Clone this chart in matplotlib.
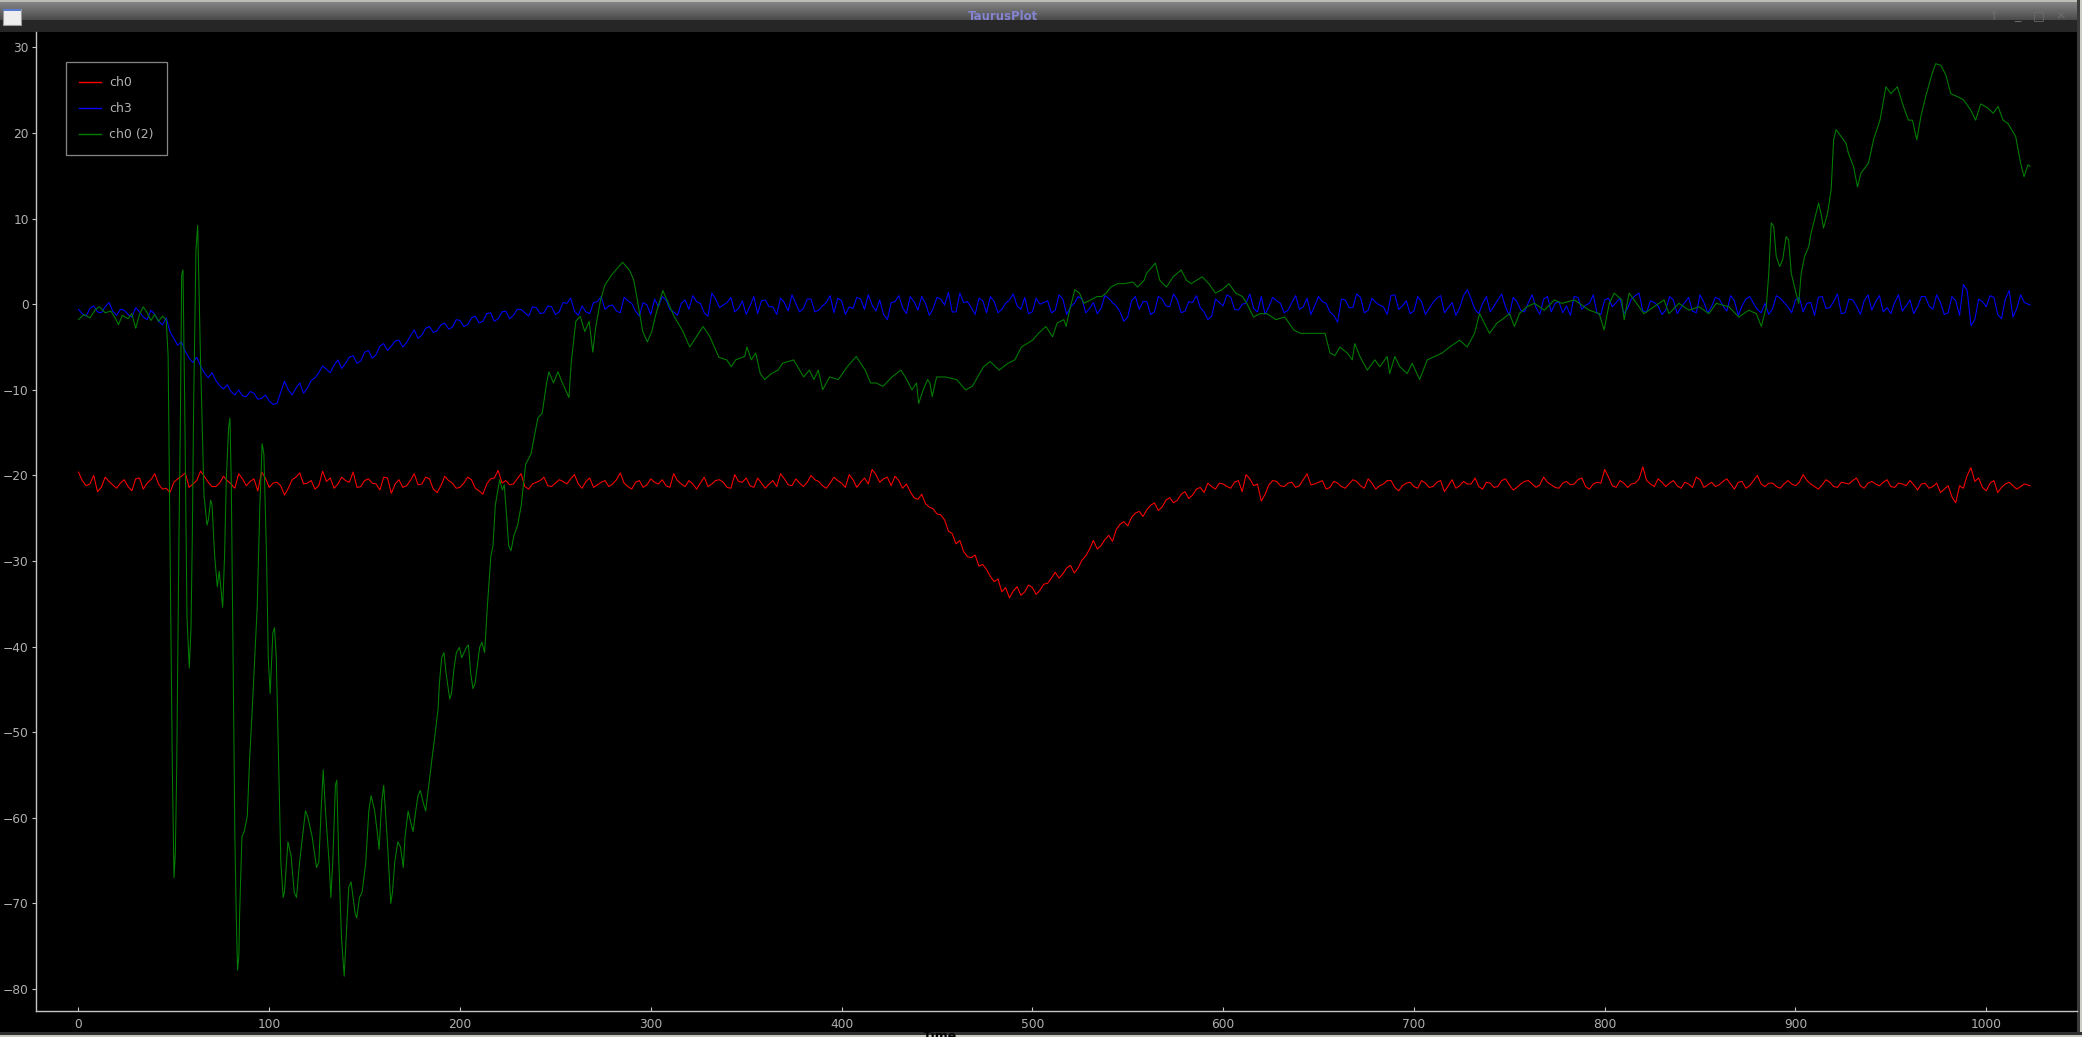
import numpy as np
import matplotlib
matplotlib.use("Agg")
import matplotlib.pyplot as plt
from matplotlib.patches import Rectangle

# ---------------- data ----------------
x_step = list(range(0, 1021, 4)) + [1023]
x_mid = list(range(2, 1019, 4))

ch0 = [
    -19.6, -21.2, -20.0, -21.4, -20.7, -21.5, -20.5, -21.8, -20.3, -20.9, -19.8, -21.6, -22.0, -20.4, -19.7, -21.0,
    -19.5, -20.8, -21.3, -20.1, -21.0, -19.8, -21.2, -20.4, -19.6, -21.4, -20.8, -22.3, -20.5, -19.7, -20.9, -21.6,
    -19.5, -20.3, -21.0, -20.6, -19.6, -21.3, -20.4, -21.0, -20.2, -22.1, -20.5, -21.2, -19.8, -21.0, -20.4, -22.0,
    -20.1, -20.9, -21.4, -20.2, -21.5, -22.2, -20.4, -19.4, -20.6, -21.0, -19.8, -21.6, -20.8, -20.2, -21.3, -20.5,
    -21.0, -19.9, -21.5, -20.3, -21.1, -20.6, -21.0, -19.7, -21.3, -20.8, -21.4, -20.4, -21.0, -21.2, -19.8, -21.0,
    -20.6, -21.6, -20.2, -21.0, -20.5, -21.4, -19.9, -20.8, -21.2, -20.3, -21.5, -20.6, -19.8, -21.1, -20.4, -21.3,
    -20.0, -20.7, -21.5, -20.2, -20.9, -19.9, -21.4, -20.3, -19.3, -20.8, -20.2, -20.1, -21.5, -21.9, -22.8, -23.3,
    -23.9, -24.6, -26.5, -28.0, -28.9, -29.6, -30.6, -31.0, -32.4, -33.6, -34.3, -33.0, -33.6, -33.1, -33.4, -32.6,
    -31.3, -31.5, -30.5, -30.8, -29.4, -27.6, -28.2, -27.0, -26.3, -25.4, -24.9, -24.2, -24.0, -23.2, -23.7, -22.6,
    -22.9, -21.9, -22.3, -21.4, -20.9, -21.6, -21.0, -21.5, -20.6, -19.9, -21.2, -23.0, -21.1, -20.7, -21.3, -20.8,
    -21.2, -19.8, -21.0, -20.6, -21.4, -20.9, -21.5, -20.5, -21.2, -20.4, -21.6, -21.0, -20.6, -21.8, -20.9, -21.3,
    -20.6, -21.4, -20.8, -21.9, -20.5, -21.2, -21.0, -20.3, -21.6, -20.9, -21.3, -20.4, -21.7, -21.0, -20.6, -21.4,
    -20.2, -21.1, -21.5, -20.7, -21.0, -20.3, -21.6, -20.8, -19.3, -21.2, -20.6, -21.4, -20.9, -19.0, -21.0, -20.4,
    -21.3, -20.6, -21.5, -21.0, -20.2, -21.4, -20.8, -21.1, -20.4, -21.6, -20.7, -21.2, -20.0, -21.3, -20.9, -21.5,
    -20.6, -21.2, -19.9, -21.0, -21.6, -20.5, -21.3, -20.8, -21.0, -20.3, -21.5, -20.7, -21.2, -20.5, -21.4, -21.0,
    -20.6, -21.7, -20.9, -21.3, -22.0, -21.2, -23.2, -21.5, -19.1, -20.3, -21.8, -20.6, -21.4, -20.8, -21.6, -21.0,
    -21.2,
]
ch0_mid = [
    -20.6, -21.0, -21.9, -20.2, -21.1, -20.9, -21.3, -20.4, -21.6, -20.5, -21.0, -21.5, -20.8, -20.1, -21.4, -20.6,
    -20.1, -21.3, -20.9, -20.6, -21.5, -20.4, -20.7, -21.8, -20.3, -20.9, -21.2, -21.5, -20.2, -21.0, -20.6, -21.2,
    -20.7, -21.5, -20.2, -20.8, -21.4, -20.6, -20.9, -21.7, -20.3, -21.0, -21.4, -20.6, -21.1, -20.2, -21.6, -21.2,
    -20.6, -21.5, -20.9, -20.5, -21.8, -21.0, -20.3, -20.9, -21.1, -20.4, -21.3, -21.0, -20.6, -21.2, -20.9, -20.7,
    -20.4, -21.0, -20.7, -21.4, -20.8, -21.3, -20.5, -20.9, -21.6, -20.6, -21.1, -20.8, -20.5, -21.4, -20.6, -21.3,
    -21.0, -20.9, -21.3, -20.6, -20.8, -21.5, -20.7, -20.3, -21.4, -20.9, -21.0, -21.3, -20.4, -21.2, -20.9, -20.8,
    -20.5, -21.2, -20.9, -20.6, -21.4, -20.5, -20.8, -21.0, -19.9, -20.4, -21.2, -20.6, -21.0, -22.6, -22.2, -23.7,
    -24.5, -25.2, -26.8, -27.6, -29.5, -29.3, -30.4, -31.8, -32.1, -33.1, -33.5, -34.0, -32.8, -33.9, -32.7, -32.0,
    -32.0, -30.8, -31.4, -29.9, -28.6, -28.6, -27.5, -27.7, -25.7, -25.9, -24.4, -24.8, -23.5, -24.1, -22.9, -23.2,
    -22.2, -22.7, -21.6, -22.0, -21.3, -20.9, -21.3, -20.8, -21.9, -20.4, -21.0, -22.2, -20.6, -21.2, -20.9, -21.4,
    -20.5, -21.1, -20.8, -21.6, -20.7, -21.3, -21.0, -20.7, -21.5, -20.9, -21.2, -20.6, -21.4, -21.2, -20.8, -21.5,
    -20.9, -21.3, -20.6, -21.2, -21.5, -20.7, -21.0, -21.3, -20.8, -21.4, -20.6, -21.1, -21.4, -20.7, -21.0, -21.1,
    -20.8, -21.4, -20.9, -21.1, -20.5, -21.3, -21.0, -20.9, -20.2, -21.4, -20.9, -21.0, -20.4, -20.6, -21.3, -20.8,
    -20.9, -21.2, -20.8, -21.4, -20.5, -21.1, -21.3, -20.7, -21.0, -20.8, -21.5, -20.6, -21.0, -20.9, -21.3, -21.0,
    -21.0, -20.8, -20.6, -21.3, -21.1, -20.8, -21.4, -20.9, -20.6, -21.2, -20.9, -21.0, -20.8, -21.3, -20.9, -21.2,
    -21.1, -21.0, -21.5, -20.9, -21.6, -22.5, -21.2, -20.0, -20.7, -21.4, -20.9, -22.0, -21.0, -21.2, -21.3,
]

ch3 = [
    -0.6, -1.4, -0.2, -1.0, 0.2, -1.3, -0.7, -1.5, -0.9, -1.8, -1.2, -2.4, -3.2, -4.8, -5.5, -6.8,
    -7.2, -8.6, -8.9, -9.9, -10.2, -10.0, -10.8, -10.4, -11.0, -11.3, -11.6, -9.0, -10.6, -9.2, -9.8, -8.6,
    -7.2, -8.0, -6.5, -6.9, -6.0, -6.6, -5.4, -5.9, -4.6, -4.9, -4.2, -4.5, -3.0, -3.6, -2.6, -3.1,
    -2.2, -2.7, -1.9, -2.4, -1.4, -2.0, -1.0, -1.7, -0.8, -1.3, -0.6, -1.4, -0.4, -1.0, -0.3, -0.9,
    0.1, -0.8, -0.2, -1.1, 0.3, -0.6, -0.1, -1.0, 0.4, -0.8, 0.2, -1.2, -0.3, 0.5, -0.9, 0.1,
    -0.6, 0.3, -1.0, 1.3, -0.4, 0.2, -0.9, 0.4, -0.2, -1.1, 0.5, -0.3, 0.7, -0.8, 0.1, -0.5,
    0.6, -0.7, 0.2, -1.0, 0.4, -0.3, 0.8, -0.6, -0.1, 0.5, -1.8, 0.3, -0.4, 0.9, -0.7, 0.1,
    -0.5, 0.6, 1.4, -0.9, 0.2, -0.4, 0.7, -1.0, 0.3, -0.6, 0.5, -0.2, 0.8, -0.9, 0.0, 0.4,
    -0.7, 0.6, -0.3, 0.9, -1.0, 0.2, -0.5, 0.7, -0.2, -2.0, 0.4, -0.6, 0.3, -0.9, 0.6, -0.3,
    0.5, -0.8, 0.2, -0.4, -1.8, 0.6, -0.2, 0.8, -0.7, 0.1, -0.5, 0.9, -0.3, 0.4, -1.0, 0.2,
    -0.6, 0.7, -0.2, 0.3, -0.9, -2.1, 0.5, -0.4, 0.8, -0.7, 0.2, -0.3, 1.0, -0.6, 0.4, -0.8,
    0.3, -0.5, 0.7, -1.0, 0.2, -0.4, 1.7, -0.6, 0.1, -0.9, 0.5, -0.3, 0.8, -0.7, 0.2, -0.4,
    0.6, -0.9, 0.3, -0.2, 0.9, -0.6, 0.1, -1.1, 0.5, -0.3, 0.7, -0.5, 1.0, -0.8, 0.4, -0.2,
    -0.7, 0.5, -0.4, 0.8, -1.0, 0.2, -0.3, 0.6, -0.8, 0.4, -0.2, 0.9, -0.6, 0.1, -0.5, 0.7,
    -0.3, 0.5, -0.9, 0.2, 0.8, -0.5, 0.3, -1.1, 0.6, -0.2, 0.4, -0.7, 1.0, -0.4, 0.2, -0.8,
    0.5, -0.3, 0.9, -0.6, 0.2, -1.0, 0.4, 2.3, -2.5, 0.6, -0.3, 0.8, -1.7, 1.6, -0.5, 0.2,
    -0.1,
]
ch3_mid = [
    -1.1, -0.5, -0.9, -0.3, -0.8, -0.6, -1.2, -0.4, -1.5, -0.7, -2.0, -1.6, -4.0, -4.4, -6.3, -6.2,
    -8.0, -8.0, -9.5, -9.4, -10.6, -10.7, -10.2, -11.1, -10.6, -11.7, -10.3, -10.0, -9.8, -10.4, -8.9, -8.0,
    -7.6, -7.1, -7.5, -6.2, -6.9, -5.6, -6.3, -4.9, -5.4, -4.3, -5.0, -3.7, -4.0, -2.8, -3.3, -2.4,
    -2.9, -1.8, -2.6, -1.6, -2.2, -1.1, -2.0, -0.9, -1.7, -0.6, -1.0, -0.3, -1.1, -0.2, -1.2, 0.2,
    0.7, -1.3, -0.9, 0.2, 0.9, -0.2, -0.8, 0.8, 0.1, -1.4, -0.1, 0.6, 0.9, -0.6, -1.3, 0.5,
    1.0, 0.1, -1.4, 0.6, -0.1, 0.8, -0.5, -1.2, 0.9, 0.4, -0.3, -1.2, 0.2, 1.1, -0.9, 0.6,
    -0.9, -0.2, 1.0, 0.7, -1.2, -0.5, 0.6, 1.1, -0.8, -1.2, 0.2, 1.0, -1.1, 0.3, 0.9, -1.3,
    0.8, -0.1, -0.9, 1.3, 0.3, -1.2, 0.4, 0.9, -1.0, 0.1, 1.2, -0.6, -1.1, 0.7, 0.2, -1.0,
    1.1, -1.2, 0.1, 0.6, -0.5, -1.1, 1.0, 0.2, -0.9, -1.5, 0.9, 0.3, -1.2, 0.9, -0.2, 1.2,
    -1.0, 0.3, 1.0, -0.9, -1.4, 0.2, 1.1, -0.6, 0.0, 1.2, -0.9, -1.2, 0.8, 0.1, -0.7, 1.0,
    -0.3, -1.2, 0.9, 0.1, -1.3, 0.6, -0.4, 1.2, -1.0, 0.7, -0.1, -1.2, 1.1, -0.2, -1.1, 0.9,
    -1.2, 0.2, 1.0, -0.4, -1.3, 1.0, 0.6, -1.1, 0.9, -0.2, 1.2, -1.3, 0.3, -0.9, 1.1, -1.2,
    0.9, 0.1, -1.0, -1.3, 0.8, -0.1, 1.1, -1.2, 0.7, 0.2, -1.1, 0.6, 1.3, -0.9, 0.2, -1.2,
    0.9, -1.1, 0.2, -0.8, 1.1, -1.0, 0.8, -0.2, 1.0, -1.3, 0.6, 0.1, -1.0, -1.2, 1.0, 0.2,
    -1.0, 0.8, 0.1, -1.3, 0.9, -0.4, 1.2, -1.0, 0.5, -1.2, 1.1, 0.3, -0.9, -1.1, 1.1, -0.2,
    -1.1, 0.9, -0.2, 1.1, -1.2, 0.9, -1.3, 1.6, -1.8, 0.3, 1.0, -1.2, 0.6, -1.5, 1.1,
]

ch0_2_x = [
    0, 3, 6, 9, 11, 14, 17, 19, 21, 23, 26, 28, 30, 32, 34, 36, 38, 40, 42, 44, 46,
    47.0, 48.0, 48.7, 49.2, 50.1, 50.8, 51.5, 52.0, 52.7, 53.4, 54.1, 54.8, 55.7, 56.9, 58.1,
    59.0, 59.7, 60.4, 61.6, 62.5, 63.9, 65.8, 67.4, 68.1, 69.3, 70.0, 71.4, 72.8, 73.8, 75.6,
    76.6, 77.5, 78.7, 79.4, 80.1, 80.8, 81.5, 82.0, 82.7, 83.4, 84.1, 84.5, 85.7, 86.9, 88.5,
    89.7, 91.1, 93.7, 95.1, 96.3, 97.2, 98.6, 99.5, 100.5, 101.9, 102.8, 103.7, 104.9, 106.1,
    107.3, 108.0, 109.8, 111.5, 113.1, 114.3, 115.9, 119.0, 120.1, 122.5, 124.8, 126.0, 127.2,
    128.3, 129.5, 131.4, 132.3, 133.3, 134.7, 135.4, 136.5, 137.9, 139.3, 140.3, 141.7, 142.9,
    145.0, 145.9, 147.3, 148.7, 150.6, 152.2, 153.4, 155.3, 156.9, 157.6, 159.0, 160.0, 161.8,
    163.7, 164.6, 165.8, 167.4, 168.8, 170.3, 171.2, 172.8, 174.0, 175.4, 176.8, 178.0, 179.2,
    180.5, 182.0, 185.2, 186.9, 188.5, 189.2, 190.4, 191.6, 192.7, 194.6, 195.5, 196.9, 198.1,
    199.7, 200.9, 203.3, 204.4, 205.6, 206.8, 207.9, 210.3, 211.5, 212.9, 214.3, 216.2, 217.3,
    218.5, 220.8, 222.2, 223.2, 224.4, 225.5, 226.7, 228.3, 230.2, 232.1, 234.4, 237.2, 240.8,
    243.1, 245.4, 246.6, 249.0, 251.3, 253.7, 257.1, 258.3, 260.7, 263.0, 265.4, 267.7, 269.6,
    271.2, 273.6, 275.9, 279.4, 284.1, 285.2, 288.8, 291.1, 293.5, 295.8, 298.2, 300.5, 302.4,
    306.3, 309.8, 312.2, 316.9, 320.4, 323.9, 327.4, 331.0, 335.7, 339.8, 342.2, 344.5, 349.2,
    350.4, 352.7, 355.0, 357.4, 359.7, 363.2, 366.7, 369.1, 374.9, 380.1, 383.1, 385.5, 387.8,
    390.1, 393.7, 398.3, 403.0, 407.7, 412.4, 415.2, 418.2, 421.7, 426.4, 431.1, 433.4, 436.9,
    439.3, 440.4, 442.8, 445.1, 446.3, 447.5, 449.8, 454.5, 460.3, 465.0, 468.5, 474.4, 477.9,
    482.6, 487.2, 490.8, 494.3, 500.1, 503.2, 507.1, 510.6, 513.0, 516.5, 517.7, 519.5, 522.3,
    524.7, 527.0, 530.5, 534.0, 536.4, 538.7, 541.1, 544.6, 548.1, 552.8, 555.1, 558.6, 559.8,
    564.5, 566.8, 570.3, 573.8, 578.0, 580.8, 583.2, 589.0, 592.5, 596.0, 599.5, 603.0, 606.6,
    610.1, 612.4, 615.9, 619.4, 623.0, 627.6, 632.3, 637.0, 640.5, 653.4, 656.0, 658.6, 661.2,
    665.1, 667.7, 669.0, 671.7, 675.6, 679.5, 682.1, 686.0, 687.3, 690.0, 692.6, 696.5, 699.1,
    703.0, 707.0, 710.9, 714.8, 718.7, 724.0, 727.9, 731.8, 734.4, 739.6, 743.5, 746.2, 750.1,
    752.7, 755.3, 759.2, 763.1, 768.4, 773.6, 777.5, 784.1, 791.9, 797.1, 799.7, 802.4, 805.0,
    808.9, 810.2, 812.8, 818.0, 820.6, 825.9, 831.1, 833.7, 838.9, 844.2, 849.4, 854.6, 858.5,
    865.1, 870.3, 875.5, 879.5, 882.1, 884.7, 886.0, 887.3, 888.6, 889.9, 891.7, 893.3, 895.1,
    896.4, 897.8, 900.4, 901.7, 903.0, 904.8, 906.9, 908.2, 910.8, 912.1, 913.4, 914.7, 916.8,
    918.7, 920.0, 921.3, 923.9, 926.5, 927.8, 930.4, 932.5, 934.3, 938.3, 940.9, 944.3, 947.4,
    950.0, 953.4, 956.6, 959.2, 961.3, 963.6, 965.7, 968.3, 970.2, 971.7, 973.5, 976.2, 978.8,
    981.4, 985.3, 988.0, 991.8, 994.4, 997.1, 1001.0, 1003.6, 1006.2, 1008.8, 1011.4, 1015.4,
    1018.0, 1019.8, 1021.9, 1023.0,
]
ch0_2 = [
    -1.8, -1.2, -1.6, -0.6, -0.3, -1.0, -0.8, -1.5, -2.4, -1.3, -1.7, -1.1, -2.8, -1.2, -0.3, -1.0, -1.9, -1.2, -2.0, -1.4, -1.8,
    -6.0, -28.2, -42.5, -53.8, -67.0, -64.0, -54.4, -43.1, -27.0, -14.5, 3.4, 4.0, -11.5, -36.6, -42.5,
    -37.8, -27.0, -11.5, 6.3, 9.2, -5.6, -22.3, -25.8, -25.2, -22.9, -23.4, -29.4, -33.0, -31.2, -35.4,
    -29.4, -20.5, -14.5, -13.3, -20.5, -35.4, -50.9, -62.2, -71.1, -77.8, -76.0, -71.1, -62.2, -61.6, -59.8,
    -53.3, -47.3, -35.4, -23.5, -16.3, -17.5, -29.4, -41.3, -45.5, -38.4, -37.8, -41.3, -53.3, -65.2,
    -69.3, -68.7, -62.8, -64.5, -68.7, -69.3, -65.2, -59.2, -59.8, -62.2, -65.8, -65.2, -59.2,
    -54.4, -59.2, -65.2, -69.3, -65.2, -56.2, -55.6, -65.2, -74.1, -78.5, -74.1, -68.1, -67.5,
    -71.1, -71.7, -69.3, -68.7, -65.2, -59.2, -57.4, -59.2, -62.2, -63.7, -58.0, -56.2, -62.2,
    -70.0, -68.7, -65.2, -62.8, -63.4, -65.8, -62.2, -59.2, -60.4, -61.6, -59.2, -57.4, -56.8,
    -58.0, -59.2, -53.3, -50.3, -47.3, -44.3, -41.3, -40.7, -43.1, -46.1, -45.5, -42.5, -40.7,
    -40.1, -41.3, -40.1, -39.8, -43.1, -44.9, -44.3, -40.1, -39.5, -40.7, -35.4, -29.4, -28.2,
    -23.5, -20.5, -21.7, -21.1, -24.6, -28.2, -28.8, -27.0, -25.8, -23.5, -18.7, -17.5, -13.3,
    -12.7, -9.2, -7.9, -9.2, -7.9, -9.2, -10.9, -6.8, -2.0, -1.4, -3.2, -2.0, -5.6,
    -2.6, 0.4, 2.2, 3.4, 4.6, 4.9, 4.0, 2.8, -0.2, -3.2, -4.4, -3.2, -1.4,
    1.6, -0.2, -1.4, -3.2, -5.0, -3.8, -2.6, -3.8, -6.2, -6.5, -7.3, -6.5, -6.1,
    -5.0, -6.5, -5.7, -8.1, -8.8, -8.1, -7.7, -6.9, -6.5, -8.5, -7.7, -8.8, -7.7,
    -10.0, -8.5, -8.8, -7.3, -6.1, -7.7, -9.2, -9.2, -9.6, -8.5, -7.7, -8.5, -10.0,
    -9.2, -11.6, -10.0, -8.8, -9.2, -10.8, -8.5, -8.5, -8.8, -10.0, -9.6, -7.3, -6.7,
    -7.7, -6.9, -6.5, -5.0, -4.2, -3.4, -2.6, -3.8, -2.2, -1.8, -2.6, -0.7, 1.7,
    1.3, 0.1, 0.5, 0.9, 0.9, 1.3, 2.0, 2.4, 2.4, 2.6, 2.0, 2.8, 3.6,
    4.8, 2.8, 2.0, 3.2, 4.0, 2.8, 2.4, 3.2, 2.4, 1.3, 1.7, 2.4, 1.3,
    0.9, 0.1, -1.5, -1.1, -1.1, -1.8, -1.5, -3.0, -3.4, -3.4, -5.7, -6.0, -5.0,
    -5.7, -6.5, -4.6, -6.1, -7.7, -6.5, -7.3, -6.1, -8.1, -6.1, -7.3, -8.1, -6.9,
    -8.8, -6.5, -6.1, -5.7, -5.0, -4.2, -5.0, -3.4, -1.1, -3.4, -2.2, -1.8, -1.1,
    -2.6, -1.1, -0.3, 0.1, -0.7, 0.5, 0.1, 0.5, -0.7, -1.1, -3.0, 0.1, 1.3,
    0.5, -1.8, 1.3, -0.3, -1.1, -0.3, 0.5, -1.1, 0.1, -0.7, -0.3, -1.1, 0.1,
    -0.3, -1.5, -0.7, -1.1, -2.6, -0.3, 3.6, 9.5, 9.1, 5.6, 4.4, 5.2, 7.9,
    7.5, 3.6, 1.2, 0.1, 3.6, 5.6, 6.7, 8.3, 10.6, 11.8, 10.6, 8.9, 10.6,
    13.4, 19.2, 20.4, 19.6, 18.8, 17.6, 16.1, 13.7, 15.3, 16.5, 19.2, 21.5, 25.4,
    24.6, 25.4, 23.1, 21.5, 21.5, 19.2, 21.9, 24.3, 25.8, 27.0, 28.1, 27.9, 26.8,
    24.6, 24.2, 23.9, 22.7, 21.5, 23.4, 22.9, 22.3, 23.1, 21.5, 21.1, 19.6,
    16.5, 14.9, 16.3, 16.1,
]

series_names = ["ch0", "ch3", "ch0 (2)"]
series_colors = ["#ff0000", "#0000ff", "#008000"]
x_ticks = list(range(0, 1001, 100))
y_ticks = list(range(-80, 31, 10))

# merge the two sample sets of ch0 / ch3 into one time-ordered series
x_all = np.array(x_step + x_mid, dtype=float)
order = np.argsort(x_all)
x_all = x_all[order]
ch0_all = np.array(ch0 + ch0_mid)[order]
ch3_all = np.array(ch3 + ch3_mid)[order]

# ---------------- figure ----------------
W, H = 2082, 1037
fig = plt.figure(figsize=(W / 100, H / 100), dpi=100, facecolor="black")

bg = fig.add_axes([0, 0, 1, 1], zorder=0)
bg.set_xlim(0, W)
bg.set_ylim(H, 0)
bg.axis("off")
bg.add_patch(Rectangle((0, 0), W, H, facecolor="black", edgecolor="none"))
grad = np.linspace(0, 1, 64).reshape(-1, 1)
cmap = matplotlib.colors.LinearSegmentedColormap.from_list("tb", ["#858585", "#4a4a4a"])
bg.imshow(grad, cmap=cmap, extent=[0, W, 20, 2], aspect="auto", zorder=1)
bg.add_patch(Rectangle((0, 0), W, 2, facecolor="#bdbdb5", edgecolor="none", zorder=2))
bg.add_patch(Rectangle((0, 20), W, 11.5, facecolor="#262626", edgecolor="none", zorder=2))
bg.text(1003, 17, "TaurusPlot", color="#8484d2", fontsize=8.5, fontweight="bold",
        ha="center", va="center", zorder=3)
bg.add_patch(Rectangle((3, 9), 18, 16, facecolor="#eeeeee", edgecolor="#9a9a9a", lw=0.8, zorder=3))
bg.add_patch(Rectangle((3, 9), 18, 2, facecolor="#5a7ad0", edgecolor="none", zorder=4))
for bx, sym in [(1994, "\u2191"), (2017, "_"), (2039, "\u25a1"), (2061, "\u00d7")]:
    bg.text(bx, 16, sym, color="#6e6e6e", fontsize=9, ha="center", va="center", zorder=3)
bg.add_patch(Rectangle((2076.5, 0), 3, H, facecolor="#3a3a3a", edgecolor="none", zorder=2))
bg.add_patch(Rectangle((2079.5, 0), 3, H, facecolor="#cfcfc8", edgecolor="none", zorder=2))
bg.add_patch(Rectangle((0, 1031.5), W, 3, facecolor="#2e2e2e", edgecolor="none", zorder=2))
bg.add_patch(Rectangle((0, 1034.5), W, 3, facecolor="#c8c8c0", edgecolor="none", zorder=2))
bg.text(940, 1030.5, "Time", color="black", fontsize=9, fontweight="bold",
        ha="center", va="top", zorder=3, clip_on=True)

left, right = 35.7 / W, 2076.5 / W
bottom, top = 1 - 1011.3 / H, 1 - 32 / H
ax = fig.add_axes([left, bottom, right - left, top - bottom], zorder=1)
ax.set_facecolor("black")

lw = 0.75
ax.plot(x_all, ch0_all, color=series_colors[0], lw=lw, label=series_names[0])
ax.plot(x_all, ch3_all, color=series_colors[1], lw=lw, label=series_names[1])
ax.plot(ch0_2_x, ch0_2, color=series_colors[2], lw=lw, label=series_names[2])

ax.set_xlim(-22.4, 1047.3)
ax.set_ylim(-82.6, 31.8)
ax.set_xticks(x_ticks)
ax.set_yticks(y_ticks)

for s in ["top", "right"]:
    ax.spines[s].set_visible(False)
for s in ["left", "bottom"]:
    ax.spines[s].set_color("#c4c4c4")
    ax.spines[s].set_linewidth(1.0)

ax.tick_params(axis="x", direction="in", length=3, width=0.8, color="#c4c4c4",
               labelcolor="#b0b0b0", labelsize=8.8, pad=5)
ax.tick_params(axis="y", direction="out", length=3, width=0.8, color="#c4c4c4",
               labelcolor="#b0b0b0", labelsize=8.8, pad=2)

leg = ax.legend(loc="upper left", bbox_to_anchor=(65.7 / W, 1 - 62.3 / H),
                bbox_transform=fig.transFigure, frameon=True, fancybox=False,
                facecolor="black", edgecolor="#a8a8a8", fontsize=9,
                handlelength=1.7, handletextpad=0.65, labelspacing=1.05,
                borderpad=1.1, borderaxespad=0)
leg.get_frame().set_linewidth(0.9)
for t in leg.get_texts():
    t.set_color("#b0b0b0")
for h in leg.get_lines():
    h.set_linewidth(1.0)

fig.savefig("out.png", dpi=100, facecolor="black")
